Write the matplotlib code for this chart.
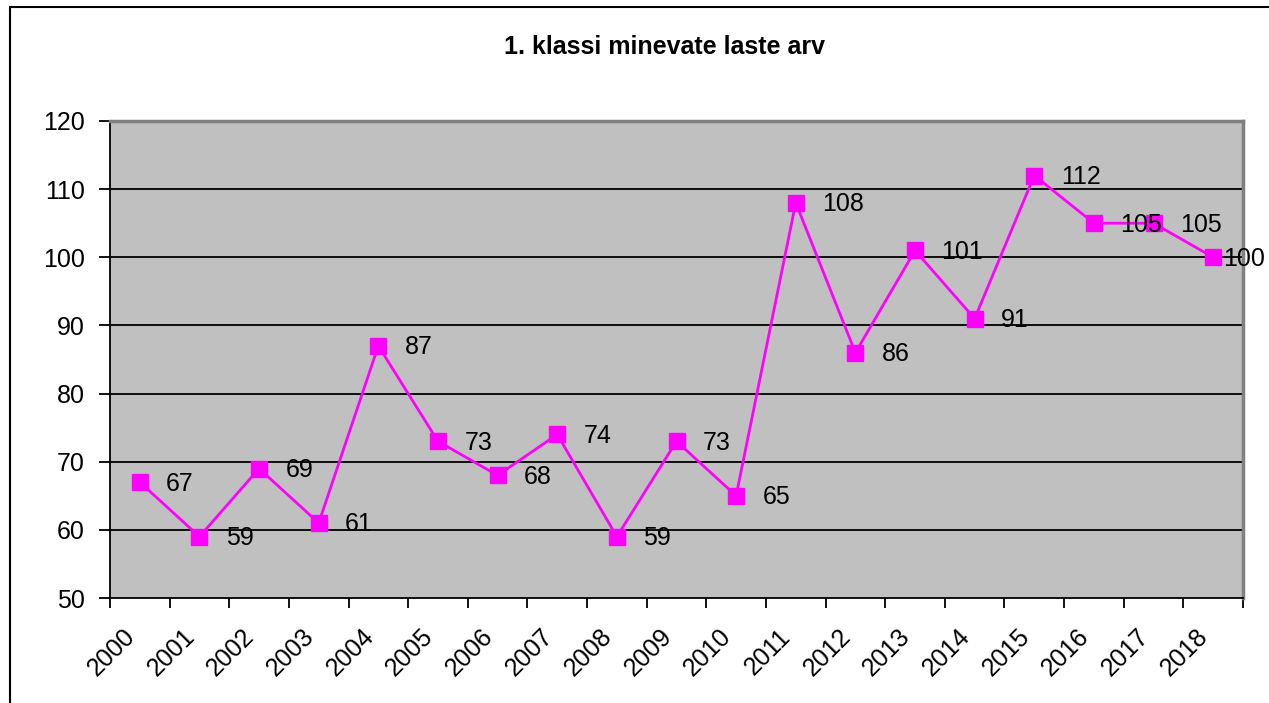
import matplotlib.pyplot as plt
import matplotlib.transforms as mtransforms
from matplotlib.patches import Rectangle

years = [str(y) for y in range(2000, 2019)]
children = [67, 59, 69, 61, 87, 73, 68, 74, 59, 73, 65, 108, 86, 101, 91, 112, 105, 105, 100]

plt.rcParams['font.family'] = ['Liberation Sans', 'DejaVu Sans']

fig = plt.figure(figsize=(12.69, 7.03), dpi=100)
ax = fig.add_axes([110/1269, 1 - 598/703, 1133/1269, 477/703])

# chart frame (cut off at right and bottom)
fig.patches.append(Rectangle((10/1269, -0.1), 1.2, 1 - 7/703 + 0.1,
                             transform=fig.transFigure, fill=False,
                             edgecolor='black', linewidth=1.5))

ax.set_facecolor('#C0C0C0')
x = range(len(years))
ax.plot(x, children, color='#FF00FF', linewidth=2, marker='s',
        markersize=11, markerfacecolor='#FF00FF', markeredgecolor='#FF00FF', zorder=3)

for i, v in enumerate(children):
    dx = 7 if i == len(children) - 1 else 19   # last label pushed inward like Excel
    ax.annotate(str(v), (i, v), xytext=(dx, -1), textcoords='offset points',
                va='center', ha='left', fontsize=18, annotation_clip=False, zorder=4)

ax.set_xlim(-0.5, len(years) - 0.5)
ax.set_ylim(50, 120)
ax.set_yticks(range(50, 121, 10))
for yv in range(60, 120, 10):
    ax.axhline(yv, color='black', linewidth=1.3, zorder=1)

ax.set_xticks([i - 0.5 for i in range(len(years) + 1)])
ax.set_xticklabels([])
ax.set_xticks(list(x), minor=True)
ax.set_xticklabels(years, minor=True, rotation=45, ha='right', va='top', fontsize=18)
shift = mtransforms.ScaledTranslation(6/100, 0, fig.dpi_scale_trans)
for lbl in ax.get_xticklabels(minor=True):
    lbl.set_transform(lbl.get_transform() + shift)
ax.tick_params(axis='x', which='major', length=7, width=1.3, direction='out')
ax.tick_params(axis='x', which='minor', length=0, pad=19)
ax.tick_params(axis='y', length=8, width=1.3, direction='out', labelsize=18, pad=10)

for s in ['left', 'bottom']:
    ax.spines[s].set_color('black')
    ax.spines[s].set_linewidth(1.3)
for s in ['top', 'right']:
    ax.spines[s].set_color('#808080')
    ax.spines[s].set_linewidth(2.5)

fig.text(665/1269, 1 - 47/703, '1. klassi minevate laste arv', ha='center', va='center',
         fontsize=18, fontweight='bold')

fig.savefig('out.png', dpi=100)
